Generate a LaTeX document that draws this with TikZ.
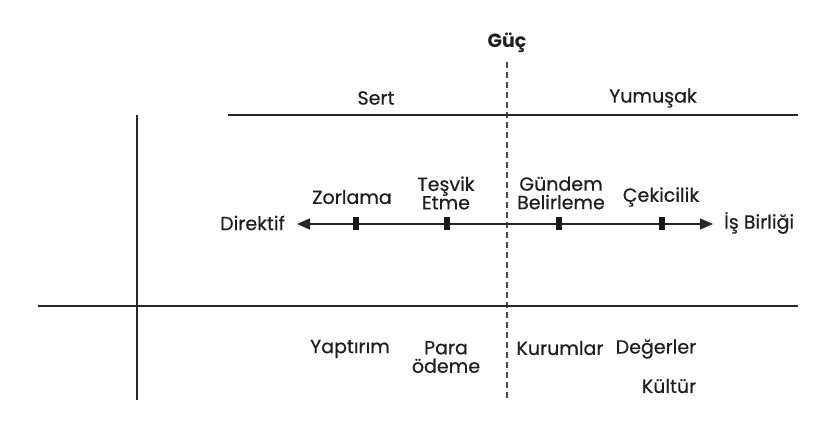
\documentclass[tikz,border=0pt]{standalone}
\usepackage{fontspec}
\setmainfont{Poppins}
\newfontfamily\medfont{Poppins}[FakeBold=0.5]
\usetikzlibrary{arrows.meta}
\begin{document}
\begin{tikzpicture}[x=1pt,y=-1pt,
  lbl/.style={font=\medfont\fontsize{19}{18.5}\selectfont, text=black!88, inner sep=0pt, align=center},
  ln/.style={line width=1.2pt, black!85},
  tickmark/.style={fill=black!90, minimum width=6.5pt, minimum height=13pt, inner sep=0pt, draw=none}]
\useasboundingbox (0,0) rectangle (833,438);
% dashed divider
\coordinate (dt) at (507,62);
\coordinate (db) at (507,400);
\draw[line width=1.2pt, black!70, dash pattern=on 6pt off 4pt] (dt) -- (db);
\node[lbl, font=\fontsize{19}{18}\selectfont\bfseries] (guc) at (507,43) {Güç};
\node[lbl] (sert) at (376,98) {Sert};
\node[lbl] (yum) at (653,98) {Yumuşak};
% frame lines
\coordinate (h1a) at (228,115); \coordinate (h1b) at (798,115);
\draw[ln] (h1a) -- (h1b);
\coordinate (v1a) at (137,115); \coordinate (v1b) at (137,400);
\draw[ln] (v1a) -- (v1b);
\coordinate (h2a) at (38,306); \coordinate (h2b) at (798,306);
\draw[ln] (h2a) -- (h2b);
% axis
\node[lbl, anchor=east] (dir) at (285,223) {Direktif};
\node[lbl, anchor=west] (isb) at (724,223) {İş Birliği};
\coordinate (al) at (297,224); \coordinate (ar) at (713,224);
\draw[ln, {Triangle[length=13pt,width=11pt]}-{Triangle[length=13pt,width=11pt]}] (al) -- (ar);
\node[tickmark] (t1) at (356,224) {};
\node[tickmark] (t2) at (447,224) {};
\node[tickmark] (t3) at (559,224) {};
\node[tickmark] (t4) at (662,224) {};
% top labels
\node[lbl] (zor) at (352,197) {Zorlama};
\node[lbl] (tes) at (446,193) {Teşvik\\Etme};
\node[lbl] (gun) at (561,193) {Gündem\\Belirleme};
\node[lbl] (cek) at (661,197) {Çekicilik};
% bottom labels
\node[lbl] (yap) at (350,349) {Yaptırım};
\node[lbl] (par) at (446,357) {Para\\ödeme};
\node[lbl] (kur) at (560,348) {Kurumlar};
\node[lbl] (deg) at (656,349) {Değerler};
\node[lbl] (kul) at (669,386) {Kültür};
\end{tikzpicture}
\end{document}
